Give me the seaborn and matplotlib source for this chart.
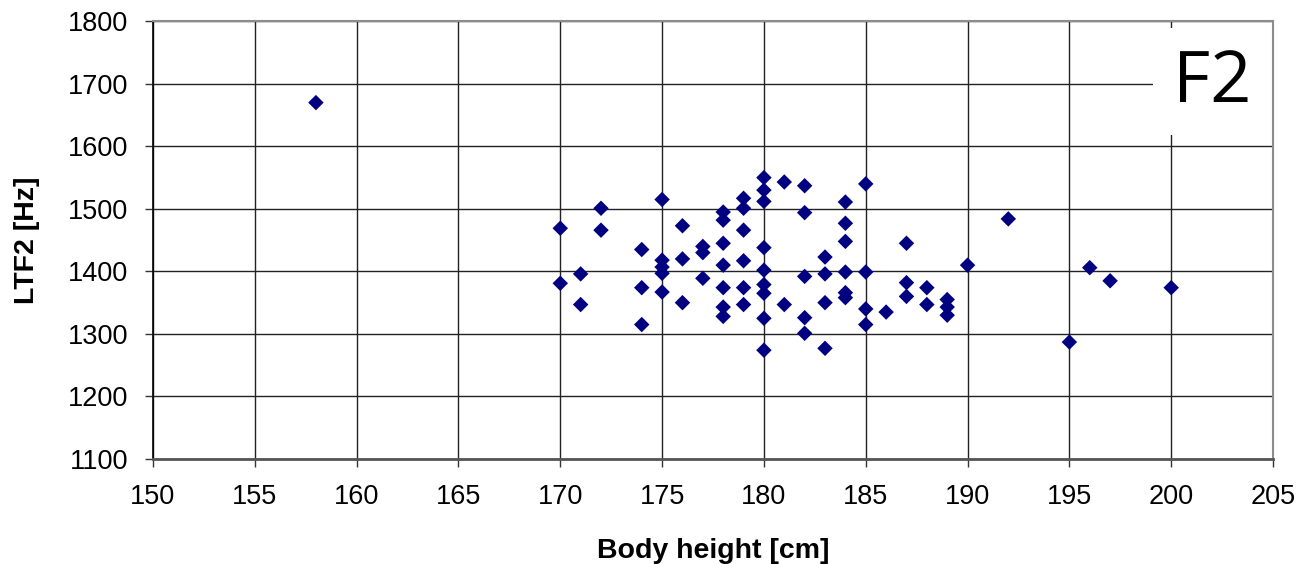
import matplotlib
matplotlib.use("Agg")
import matplotlib.pyplot as plt
import seaborn as sns
import pandas as pd
from matplotlib.patches import Rectangle

# Body height [cm] and second long-term formant LTF2 [Hz] per speaker
height_cm = [
    158,
    170, 170,
    171, 171,
    172, 172,
    174, 174, 174,
    175, 175, 175, 175, 175,
    176, 176, 176,
    177, 177, 177,
    178, 178, 178, 178, 178, 178, 178,
    179, 179, 179, 179, 179, 179,
    180, 180, 180, 180, 180, 180, 180, 180, 180,
    181, 181,
    182, 182, 182, 182, 182,
    183, 183, 183, 183,
    184, 184, 184, 184, 184, 184,
    185, 185, 185, 185,
    186,
    187, 187, 187,
    188, 188,
    189, 189, 189,
    190,
    192,
    195,
    196,
    197,
    200,
]
ltf2_hz = [
    1670,
    1469, 1381,
    1396, 1347,
    1501, 1466,
    1435, 1374, 1315,
    1515, 1418, 1407, 1397, 1367,
    1473, 1420, 1350,
    1440, 1430, 1389,
    1495, 1482, 1445, 1410, 1374, 1343, 1328,
    1517, 1501, 1466, 1417, 1374, 1347,
    1550, 1530, 1512, 1438, 1402, 1379, 1365, 1325, 1274,
    1543, 1347,
    1537, 1494, 1392, 1326, 1301,
    1423, 1396, 1350, 1277,
    1511, 1477, 1448, 1399, 1366, 1358,
    1540, 1399, 1340, 1315,
    1335,
    1445, 1382, 1360,
    1374, 1347,
    1355, 1343, 1330,
    1410,
    1484,
    1287,
    1406,
    1385,
    1374,
]

df = pd.DataFrame({"Body height [cm]": height_cm, "LTF2 [Hz]": ltf2_hz})

sns.set_style("white")
plt.rcParams["font.family"] = ["Liberation Sans", "DejaVu Sans"]
plt.rcParams["text.color"] = "black"
plt.rcParams["axes.labelcolor"] = "black"

fig = plt.figure(figsize=(13.01, 5.64), dpi=100)
ax = fig.add_axes([0.1176, 0.1862, 0.8609, 0.776])

sns.scatterplot(
    data=df, x="Body height [cm]", y="LTF2 [Hz]", ax=ax,
    marker="D", s=62, color="#000080", edgecolor="none", linewidth=0,
    zorder=5, legend=False,
)

ax.set_xlim(150, 205)
ax.set_ylim(1100, 1800)
ax.set_xticks(range(150, 206, 5))
ax.set_yticks(range(1100, 1801, 100))

ax.grid(True, color="#222222", linewidth=1.0)
ax.set_axisbelow(True)

for side in ("top", "right"):
    ax.spines[side].set_color("#8c8c8c")
    ax.spines[side].set_linewidth(1.5)
ax.spines["left"].set_color("#000000")
ax.spines["left"].set_linewidth(1.2)
ax.spines["bottom"].set_color("#555555")
ax.spines["bottom"].set_linewidth(2.0)
for sp in ax.spines.values():
    sp.set_zorder(6)

ax.tick_params(axis="both", direction="out", length=6, width=1,
               color="#333333", labelsize=19.5, labelcolor="#000000",
               left=True, bottom=True)
ax.tick_params(axis="x", pad=12)
ax.tick_params(axis="y", pad=12)

ax.set_xlabel("Body height [cm]", fontsize=20.5, fontweight="bold",
              labelpad=20, color="black")
ax.set_ylabel("LTF2 [Hz]", fontsize=20.5, fontweight="bold",
              labelpad=20, color="black")

# Panel tag in the upper-right corner on a white patch
ax.add_patch(Rectangle((0.893, 0.740), 0.106, 0.245, transform=ax.transAxes,
                       facecolor="white", edgecolor="none", zorder=4))
ax.text(0.9455, 0.858, "F2", transform=ax.transAxes, ha="center", va="center",
        fontsize=52, family=["Open Sans", "DejaVu Sans"], color="#000000",
        zorder=7)

fig.savefig("out.png", dpi=100, facecolor="white")
